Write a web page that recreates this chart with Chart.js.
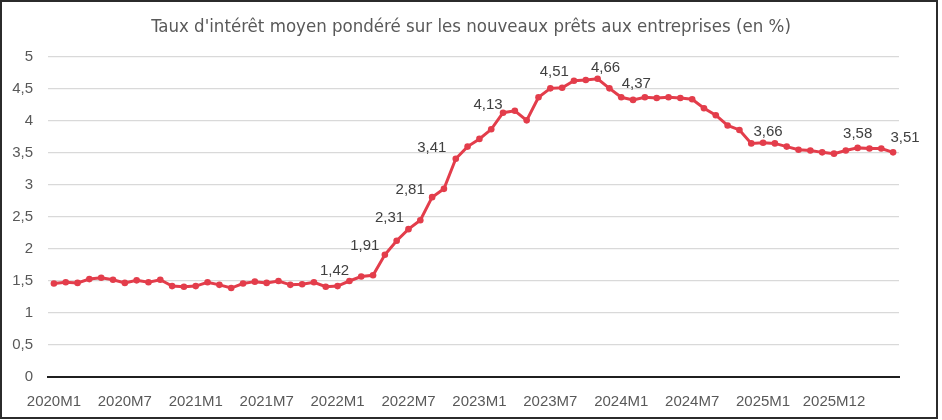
<!DOCTYPE html>
<html><head><meta charset="utf-8">
<script src="https://cdn.jsdelivr.net/npm/chart.js@4"></script>
<style>
html,body{margin:0;padding:0;background:#fff;}
#wrap{position:relative;width:942px;height:420px;}
#frame{position:absolute;left:0;top:0;width:934px;height:415px;border:2px solid #2b2b2b;pointer-events:none;}
canvas{position:absolute;left:0;top:0;}
</style></head><body>
<div id="wrap"><canvas id="c" width="942" height="420"></canvas><div id="frame"></div></div>
<script>
const years = [2020, 2021, 2022, 2023, 2024, 2025];
const months = [1,2,3,4,5,6,7,8,9,10,11,12];
const categories = [];
years.forEach(y => months.forEach(m => categories.push(y + 'M' + m)));

const rates = [
  1.46, 1.48, 1.47, 1.53, 1.55, 1.52, 1.47, 1.51, 1.48, 1.52, 1.42, 1.41,
  1.42, 1.48, 1.44, 1.39, 1.46, 1.49, 1.47, 1.50, 1.44, 1.45, 1.48, 1.41,
  1.42, 1.50, 1.57, 1.59, 1.91, 2.13, 2.31, 2.45, 2.81, 2.94, 3.41, 3.60,
  3.72, 3.87, 4.13, 4.16, 4.01, 4.37, 4.51, 4.52, 4.63, 4.64, 4.66, 4.51,
  4.37, 4.33, 4.37, 4.36, 4.37, 4.36, 4.34, 4.20, 4.09, 3.93, 3.86, 3.65,
  3.66, 3.65, 3.60, 3.55, 3.54, 3.51, 3.49, 3.54, 3.58, 3.57, 3.57, 3.51
];

const tickLabels = ['2020M1','2020M7','2021M1','2021M7','2022M1','2022M7','2023M1','2023M7','2024M1','2024M7','2025M1','2025M12'];
const tickEvery = 6;
const yTicks = [0, 0.5, 1, 1.5, 2, 2.5, 3, 3.5, 4, 4.5, 5];
const labelledPoints = [24, 28, 30, 32, 34, 38, 42, 46, 48, 60, 68, 71];
const titleText = "Taux d'intérêt moyen pondéré sur les nouveaux prêts aux entreprises (en %)";

const labelOffsets = {
  24: [-3, -15], 28: [-20, -9], 30: [-19, -11], 32: [-22, -7], 34: [-24, -11],
  38: [-15, -8], 42: [4, -17], 46: [8, -11], 48: [15, -13], 60: [5, -11],
  68: [0, -14], 71: [12, -15]
};
const fmt = v => String(v).replace('.', ',');

const pointLabels = {
  id: 'pointLabels',
  afterDatasetsDraw(chart) {
    const meta = chart.getDatasetMeta(0);
    const ctx = chart.ctx;
    ctx.save();
    ctx.font = '15px "Liberation Sans", Arial, sans-serif';
    ctx.fillStyle = '#404040';
    ctx.textAlign = 'center';
    ctx.textBaseline = 'middle';
    labelledPoints.forEach(i => {
      const el = meta.data[i];
      const off = labelOffsets[i] || [0, -14];
      ctx.fillText(rates[i].toFixed(2).replace('.', ','), el.x + off[0], el.y + off[1]);
    });
    ctx.restore();
  }
};

const chartTitle = {
  id: 'chartTitle',
  afterDraw(chart) {
    const ctx = chart.ctx;
    ctx.save();
    ctx.font = '18.5px "DejaVu Sans Condensed", "Liberation Sans Narrow", sans-serif';
    ctx.fillStyle = '#595959';
    ctx.textAlign = 'center';
    ctx.textBaseline = 'middle';
    ctx.fillText(titleText, 471, 27);
    ctx.restore();
  }
};

new Chart(document.getElementById('c'), {
  type: 'line',
  data: {
    labels: categories,
    datasets: [{
      data: rates,
      borderColor: '#E33D4B',
      backgroundColor: '#E33D4B',
      pointBackgroundColor: '#E33D4B',
      pointBorderColor: '#E33D4B',
      borderWidth: 3,
      pointRadius: 3.3,
      pointBorderWidth: 0,
      tension: 0
    }]
  },
  options: {
    responsive: false,
    animation: false,
    layout: { padding: { left: 0, right: 43, top: 57, bottom: 4 } },
    plugins: {
      legend: { display: false },
      tooltip: { enabled: false },
      title: { display: false }
    },
    scales: {
      x: {
        type: 'category',
        offset: true,
        grid: { display: false, drawTicks: false },
        border: { display: true, color: '#1f1f1f', width: 2 },
        ticks: {
          autoSkip: false, maxRotation: 0, minRotation: 0, padding: 16,
          color: '#595959',
          font: { family: '"Liberation Sans", Arial, sans-serif', size: 15 },
          callback: (v, i) => (i % tickEvery === 0 ? tickLabels[i / tickEvery] : '')
        },
        afterFit: s => { s.height = 39; }
      },
      y: {
        min: yTicks[0], max: yTicks[yTicks.length - 1],
        afterBuildTicks: s => { s.ticks = yTicks.map(v => ({ value: v })); },
        grid: { color: '#d9d9d9', lineWidth: 1.3, drawTicks: false },
        border: { display: false },
        ticks: {
          padding: 15,
          color: '#595959',
          font: { family: '"Liberation Sans", Arial, sans-serif', size: 15 },
          callback: v => fmt(v)
        },
        afterFit: s => { s.width = 48; }
      }
    }
  },
  plugins: [pointLabels, chartTitle]
});
</script>
</body></html>
